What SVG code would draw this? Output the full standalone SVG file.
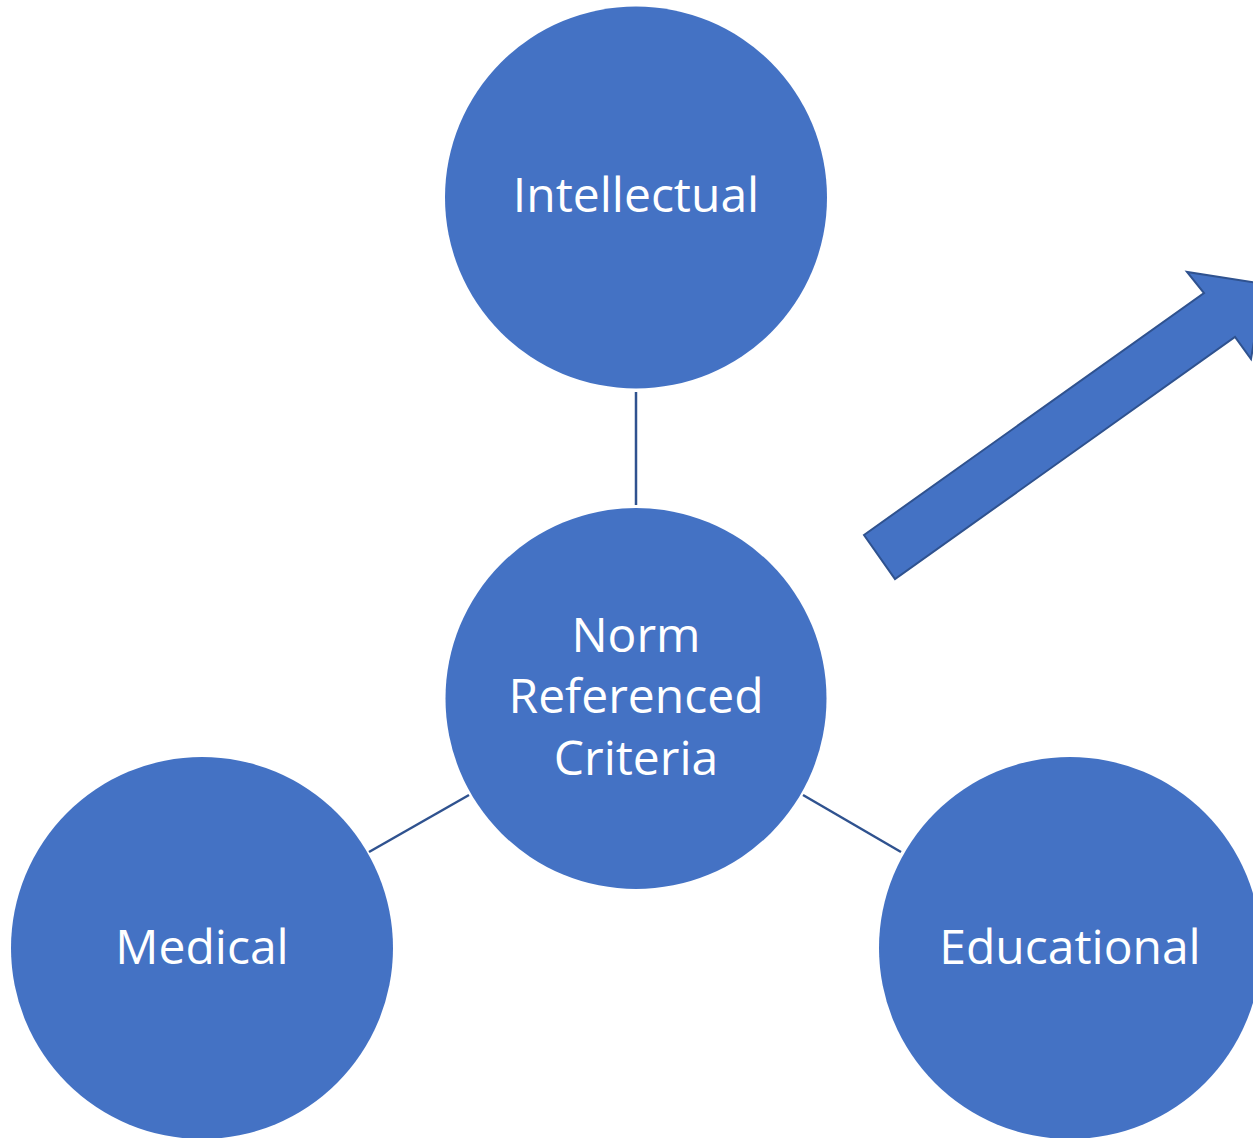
<svg xmlns="http://www.w3.org/2000/svg" width="1253" height="1138" viewBox="0 0 1253 1138">
<style>
.node{fill:#4472C4;}
.lbl{fill:#fff;font-family:"Open Sans","Noto Sans","Liberation Sans",sans-serif;font-size:48px;text-anchor:middle;}
.conn{stroke:#2F528F;stroke-width:2.5;fill:none;}
.arrow{fill:#4472C4;stroke:#2F528F;stroke-width:2;}
</style>
<rect width="1253" height="1138" fill="#fff"/>
<g id="connectors">
<line class="conn" x1="636" y1="392" x2="636" y2="505"/>
<line class="conn" x1="469" y1="795" x2="369" y2="852"/>
<line class="conn" x1="803" y1="795" x2="901" y2="852"/>
</g>
<g id="intellectual">
<circle class="node" cx="636" cy="197.5" r="191"/>
<text class="lbl" x="636" y="212">Intellectual</text>
</g>
<g id="norm">
<circle class="node" cx="636" cy="698.5" r="190.5"/>
<text class="lbl" x="636" y="652">Norm</text>
<text class="lbl" x="636" y="713">Referenced</text>
<text class="lbl" x="636" y="775">Criteria</text>
</g>
<g id="medical">
<circle class="node" cx="202" cy="948" r="191"/>
<text class="lbl" x="202" y="964">Medical</text>
</g>
<g id="educational">
<circle class="node" cx="1070" cy="948" r="191"/>
<text class="lbl" x="1070" y="964">Educational</text>
</g>
<g id="arrow">
<polygon class="arrow" points="864,535 1204,293 1187,272 1264,284 1251,359 1235,337 895,579"/>
</g>
</svg>
